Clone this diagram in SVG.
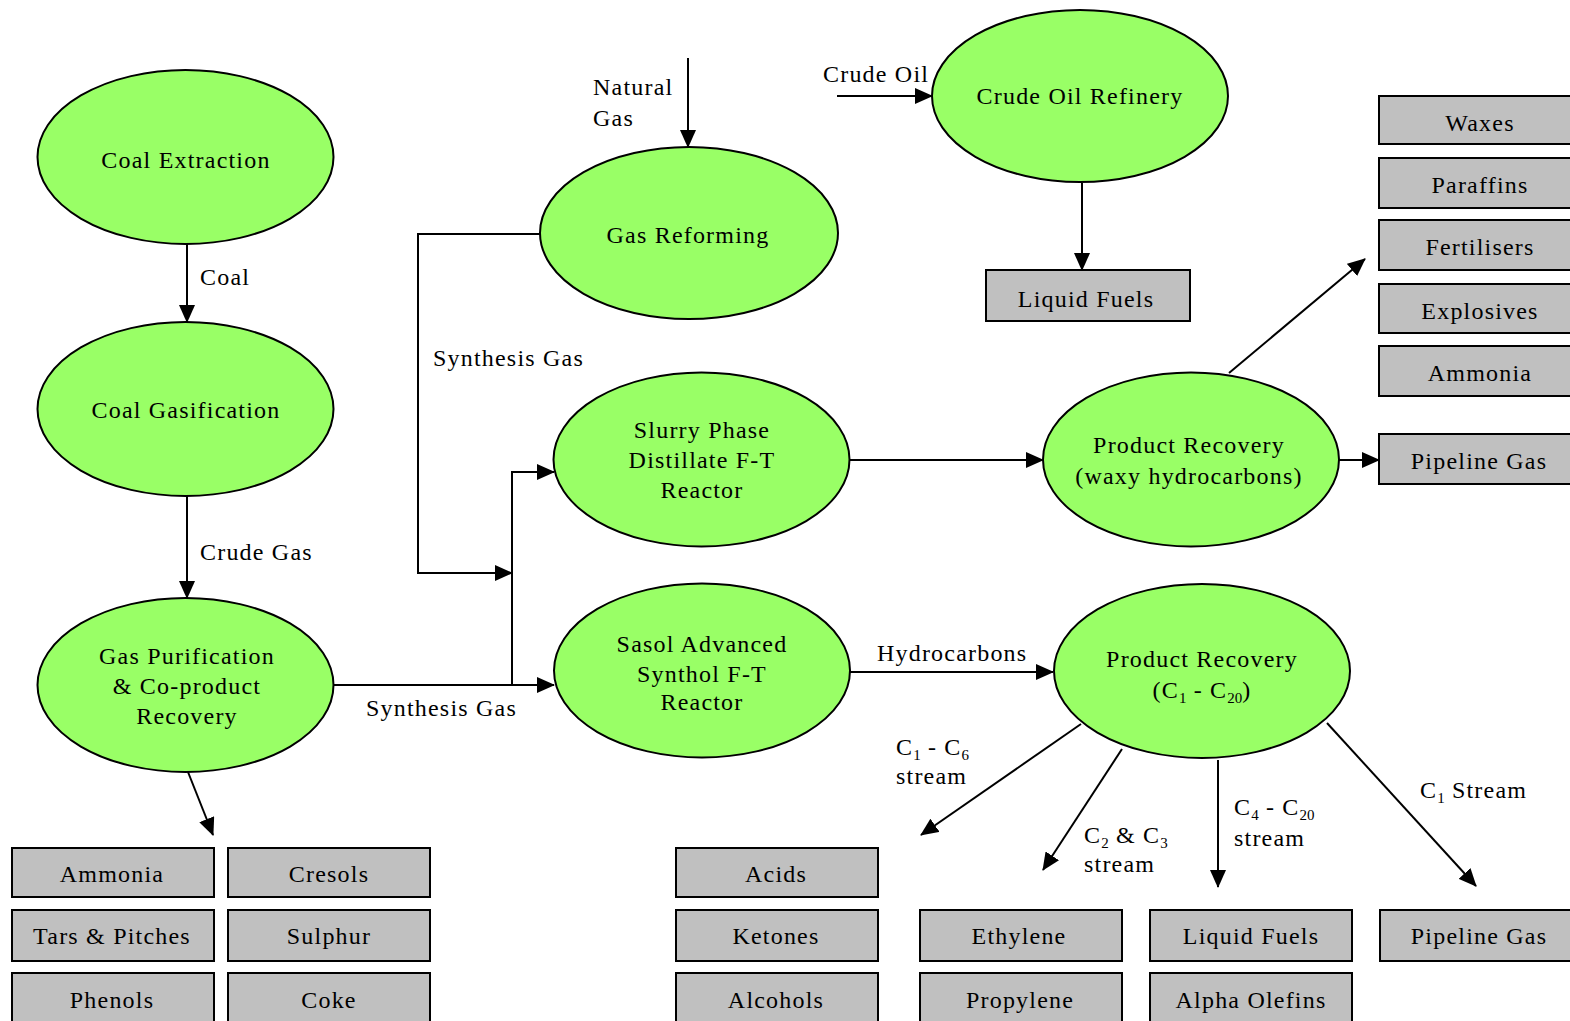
<svg xmlns="http://www.w3.org/2000/svg" width="1570" height="1021" viewBox="0 0 1570 1021">
<style>
text{font-family:"Liberation Serif","Times New Roman",serif;font-size:24px;letter-spacing:1.2px;fill:#000}
.c{text-anchor:middle}
.sub{font-size:15px;letter-spacing:0}
.node ellipse{fill:#99ff66;stroke:#000;stroke-width:2}
.box rect{fill:#c0c0c0;stroke:#000;stroke-width:2}
#connectors line,#connectors polyline{stroke:#000;stroke-width:2;fill:none}
.a{marker-end:url(#arr)}
</style>
<defs>
<marker id="arr" viewBox="0 0 18 16" refX="17" refY="8" markerWidth="18" markerHeight="16" markerUnits="userSpaceOnUse" orient="auto">
<path d="M0,0 L18,8 L0,16 z" fill="#000"/>
</marker>
</defs>
<rect width="1570" height="1021" fill="#fff"/>

<g id="connectors">
<line class="a" x1="187" y1="244" x2="187" y2="322"/>
<line class="a" x1="187" y1="496" x2="187" y2="598"/>
<line class="a" x1="188" y1="772" x2="213" y2="835"/>
<line class="a" x1="334" y1="685" x2="554" y2="685"/>
<polyline class="a" points="512,685 512,472 554,472"/>
<polyline class="a" points="540,234 418,234 418,573 512,573"/>
<line class="a" x1="688" y1="58" x2="688" y2="147"/>
<line class="a" x1="837" y1="96" x2="932" y2="96"/>
<line class="a" x1="1082" y1="183" x2="1082" y2="270"/>
<line class="a" x1="849" y1="460" x2="1043" y2="460"/>
<line class="a" x1="1339" y1="460" x2="1379" y2="460"/>
<line class="a" x1="1229" y1="373" x2="1365" y2="259"/>
<line class="a" x1="850" y1="672" x2="1053" y2="672"/>
<line class="a" x1="1081" y1="724" x2="921" y2="835"/>
<line class="a" x1="1122" y1="749" x2="1043" y2="870"/>
<line class="a" x1="1218" y1="760" x2="1218" y2="887"/>
<line class="a" x1="1327" y1="723" x2="1476" y2="886"/>
<text x="200" y="285">Coal</text>
<text x="200" y="560">Crude Gas</text>
<text x="366" y="716">Synthesis Gas</text>
<text x="433" y="366">Synthesis Gas</text>
<text x="593" y="95">Natural</text>
<text x="593" y="126">Gas</text>
<text x="823" y="82">Crude Oil</text>
<text x="877" y="661">Hydrocarbons</text>
<text x="896" y="755">C<tspan class="sub" dy="5">1</tspan><tspan dy="-5"> - C</tspan><tspan class="sub" dy="5">6</tspan></text>
<text x="896" y="784">stream</text>
<text x="1084" y="843">C<tspan class="sub" dy="5">2</tspan><tspan dy="-5"> &amp; C</tspan><tspan class="sub" dy="5">3</tspan></text>
<text x="1084" y="872">stream</text>
<text x="1234" y="815">C<tspan class="sub" dy="5">4</tspan><tspan dy="-5"> - C</tspan><tspan class="sub" dy="5">20</tspan></text>
<text x="1234" y="846">stream</text>
<text x="1420" y="798">C<tspan class="sub" dy="5">1</tspan><tspan dy="-5"> Stream</tspan></text>
</g>

<g id="coal-extraction" class="node"><ellipse cx="185.5" cy="157" rx="148" ry="87"/><text class="c" x="186" y="168">Coal Extraction</text></g>
<g id="coal-gasification" class="node"><ellipse cx="185.5" cy="409" rx="148" ry="87"/><text class="c" x="186" y="418">Coal Gasification</text></g>
<g id="gas-purification" class="node"><ellipse cx="185.5" cy="685" rx="148" ry="87"/><text class="c" x="187" y="664">Gas Purification</text><text class="c" x="187" y="694">&amp; Co-product</text><text class="c" x="187" y="724">Recovery</text></g>
<g id="gas-reforming" class="node"><ellipse cx="689" cy="233" rx="149" ry="86"/><text class="c" x="688" y="243">Gas Reforming</text></g>
<g id="crude-oil-refinery" class="node"><ellipse cx="1080" cy="96" rx="148" ry="86"/><text class="c" x="1080" y="104">Crude Oil Refinery</text></g>
<g id="slurry-phase" class="node"><ellipse cx="701.5" cy="459.5" rx="148" ry="87"/><text class="c" x="702" y="438">Slurry Phase</text><text class="c" x="702" y="468">Distillate F-T</text><text class="c" x="702" y="498">Reactor</text></g>
<g id="sasol-advanced" class="node"><ellipse cx="702" cy="670.5" rx="148" ry="87"/><text class="c" x="702" y="652">Sasol Advanced</text><text class="c" x="702" y="682">Synthol F-T</text><text class="c" x="702" y="710">Reactor</text></g>
<g id="product-recovery-waxy" class="node"><ellipse cx="1191" cy="459.5" rx="148" ry="87"/><text class="c" x="1189" y="453">Product Recovery</text><text class="c" x="1189" y="484">(waxy hydrocarbons)</text></g>
<g id="product-recovery-c1c20" class="node"><ellipse cx="1202" cy="671" rx="148" ry="87"/><text class="c" x="1202" y="667">Product Recovery</text><text class="c" x="1202" y="698">(C<tspan class="sub" dy="5">1</tspan><tspan dy="-5"> - C</tspan><tspan class="sub" dy="5">20</tspan><tspan dy="-5">)</tspan></text></g>

<g id="liquid-fuels-top" class="box"><rect x="986" y="270" width="204" height="51"/><text class="c" x="1086" y="307">Liquid Fuels</text></g>
<g id="waxes" class="box"><rect x="1379" y="96" width="202" height="48"/><text class="c" x="1480" y="131">Waxes</text></g>
<g id="paraffins" class="box"><rect x="1379" y="158" width="202" height="50"/><text class="c" x="1480" y="193">Paraffins</text></g>
<g id="fertilisers" class="box"><rect x="1379" y="220" width="202" height="50"/><text class="c" x="1480" y="255">Fertilisers</text></g>
<g id="explosives" class="box"><rect x="1379" y="284" width="202" height="49"/><text class="c" x="1480" y="319">Explosives</text></g>
<g id="ammonia-right" class="box"><rect x="1379" y="346" width="202" height="50"/><text class="c" x="1480" y="381">Ammonia</text></g>
<g id="pipeline-gas-top" class="box"><rect x="1379" y="434" width="202" height="50"/><text class="c" x="1479" y="469">Pipeline Gas</text></g>

<g id="ammonia-left" class="box"><rect x="12" y="848" width="202" height="49"/><text class="c" x="112" y="882">Ammonia</text></g>
<g id="cresols" class="box"><rect x="228" y="848" width="202" height="49"/><text class="c" x="329" y="882">Cresols</text></g>
<g id="tars-pitches" class="box"><rect x="12" y="910" width="202" height="51"/><text class="c" x="112" y="944">Tars &amp; Pitches</text></g>
<g id="sulphur" class="box"><rect x="228" y="910" width="202" height="51"/><text class="c" x="329" y="944">Sulphur</text></g>
<g id="phenols" class="box"><rect x="12" y="973" width="202" height="60"/><text class="c" x="112" y="1008">Phenols</text></g>
<g id="coke" class="box"><rect x="228" y="973" width="202" height="60"/><text class="c" x="329" y="1008">Coke</text></g>

<g id="acids" class="box"><rect x="676" y="848" width="202" height="49"/><text class="c" x="776" y="882">Acids</text></g>
<g id="ketones" class="box"><rect x="676" y="910" width="202" height="51"/><text class="c" x="776" y="944">Ketones</text></g>
<g id="alcohols" class="box"><rect x="676" y="973" width="202" height="60"/><text class="c" x="776" y="1008">Alcohols</text></g>
<g id="ethylene" class="box"><rect x="920" y="910" width="202" height="51"/><text class="c" x="1019" y="944">Ethylene</text></g>
<g id="propylene" class="box"><rect x="920" y="973" width="202" height="60"/><text class="c" x="1020" y="1008">Propylene</text></g>
<g id="liquid-fuels-bottom" class="box"><rect x="1150" y="910" width="202" height="51"/><text class="c" x="1251" y="944">Liquid Fuels</text></g>
<g id="alpha-olefins" class="box"><rect x="1150" y="973" width="202" height="60"/><text class="c" x="1251" y="1008">Alpha Olefins</text></g>
<g id="pipeline-gas-bottom" class="box"><rect x="1380" y="910" width="202" height="51"/><text class="c" x="1479" y="944">Pipeline Gas</text></g>
</svg>
